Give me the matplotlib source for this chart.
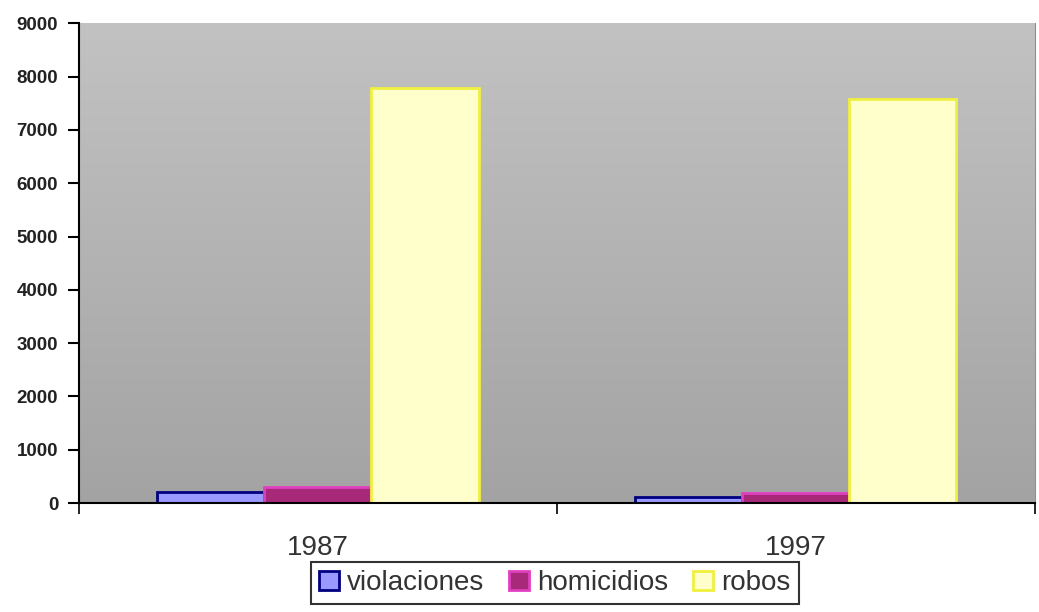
import numpy as np
import matplotlib.pyplot as plt
from matplotlib.ticker import FixedLocator, NullFormatter

# data
years = ['1987', '1997']
series = ['violaciones', 'homicidios', 'robos']
violaciones = [200, 120]
homicidios = [300, 190]
robos = [7790, 7575]

plt.rcParams['font.family'] = ['Liberation Sans', 'DejaVu Sans']

fig = plt.figure(figsize=(10.39, 6.12), dpi=100)
ax = fig.add_axes([0.076, 0.178, 0.92, 0.784])

# gray gradient background of the plot area
grad = np.linspace(0, 1, 256).reshape(-1, 1)
ax.imshow(grad, extent=[0, 1, 0, 1], transform=ax.transAxes, aspect='auto',
          cmap=plt.matplotlib.colors.LinearSegmentedColormap.from_list(
              'g', ['#c2c2c2', '#a3a3a3']), zorder=0)

x = np.arange(len(years))
w = 0.224
fills = ['#9999ff', '#a8287a', '#ffffcc']
edges = ['#000080', '#e040c0', '#f0f040']
vals = [violaciones, homicidios, robos]
for i, (name, v) in enumerate(zip(series, vals)):
    ax.bar(x + (i - 1) * w, v, w, color=fills[i], edgecolor=edges[i],
           linewidth=2, label=name, zorder=2)

ax.set_xlim(-0.5, 1.5)
ax.set_ylim(0, 9000)
ax.set_yticks(range(0, 9001, 1000))
ax.tick_params(axis='y', labelsize=13.5, length=8, width=1.5, pad=7)
for t in ax.get_yticklabels():
    t.set_fontweight('bold')
    t.set_color('#222222')

# category labels at centres, tick marks at boundaries
ax.xaxis.set_major_locator(FixedLocator([-0.5, 0.5, 1.5]))
ax.xaxis.set_major_formatter(NullFormatter())
ax.xaxis.set_minor_locator(FixedLocator(x))
ax.set_xticklabels(years, minor=True)
ax.tick_params(axis='x', which='major', length=8, width=1.2)
ax.tick_params(axis='x', which='minor', length=0, labelsize=20, pad=23,
               labelcolor='#333333')

ax.spines['top'].set_visible(False)
ax.spines['right'].set_color('#909090')
ax.spines['left'].set_linewidth(1.5)
ax.spines['bottom'].set_linewidth(1.5)

leg = fig.legend(loc='upper center', bbox_to_anchor=(0.534, 0.082), ncol=3,
                 fontsize=20, frameon=True, fancybox=False, edgecolor='black',
                 handlelength=0.7, handleheight=0.7, handletextpad=0.3,
                 columnspacing=0.9, borderpad=0.3, borderaxespad=0)
leg.get_frame().set_linewidth(1.5)
for t in leg.get_texts():
    t.set_color('#333333')

fig.savefig('out.png', dpi=100)
